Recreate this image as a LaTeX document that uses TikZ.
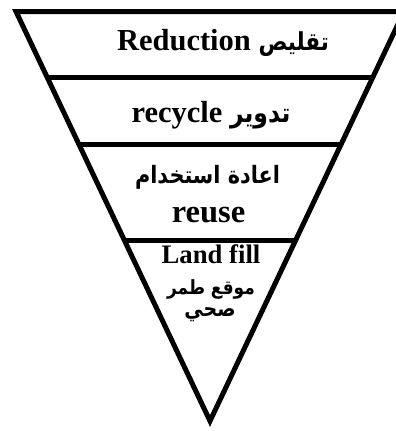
\documentclass[tikz,border=0pt]{standalone}
\usepackage{fontspec}
\setmainfont{Liberation Serif}
\newfontfamily\arabicfont[Script=Arabic]{DejaVu Sans}
\TeXXeTstate=1
\newcommand{\arb}[2]{\scalebox{1}[1.15]{\arabicfont\bfseries\fontsize{#1}{#1}\selectfont #2}}
\begin{document}
\begin{tikzpicture}[x=1pt,y=-1pt,
  edge/.style={line width=5pt,line join=miter},
  divider/.style={line width=5pt},
  big/.style={font=\bfseries\fontsize{30.5}{31}\selectfont,inner sep=0pt,anchor=base},
  bigger/.style={font=\bfseries\fontsize{32.5}{33}\selectfont,inner sep=0pt,anchor=base},
  small/.style={font=\bfseries\fontsize{26.7}{27}\selectfont,inner sep=0pt,anchor=base},
  ar/.style={inner sep=0pt}]
\useasboundingbox (0,0) rectangle (396,431);
\clip (0,0) rectangle (396,431);
\coordinate (tl) at (16,11.5);
\coordinate (tr) at (404,11.5);
\coordinate (apex) at (210,421);
\draw[edge] (tl) -- (tr) -- (apex) -- cycle;
\foreach \y/\n in {77.5/a,144.5/b,240/c}{
  \pgfmathsetmacro{\dx}{0.4737*(\y-11.5)}
  \coordinate (\n l) at ({16+\dx},\y);
  \coordinate (\n r) at ({404-\dx},\y);
  \draw[divider] (\n l) -- (\n r);
}
\node[big] (reduction) at (223,50) {Reduction \arb{21.5}{\beginR تقليص\endR}};
\node[big] (recycle) at (211,122) {recycle \arb{23.5}{\beginR تدوير\endR}};
\node[ar] (reuseAr) at (207.5,177) {\arb{20.8}{\beginR اعادة استخدام\endR}};
\node[bigger] (reuse) at (208.5,222) {reuse};
\node[small] (landfill) at (211,263) {Land fill};
\node[ar] (landAr1) at (211,289) {\arb{17}{\beginR موقع طمر\endR}};
\node[ar] (landAr2) at (210,315) {\arb{19}{\beginR صحي\endR}};
\end{tikzpicture}
\end{document}
